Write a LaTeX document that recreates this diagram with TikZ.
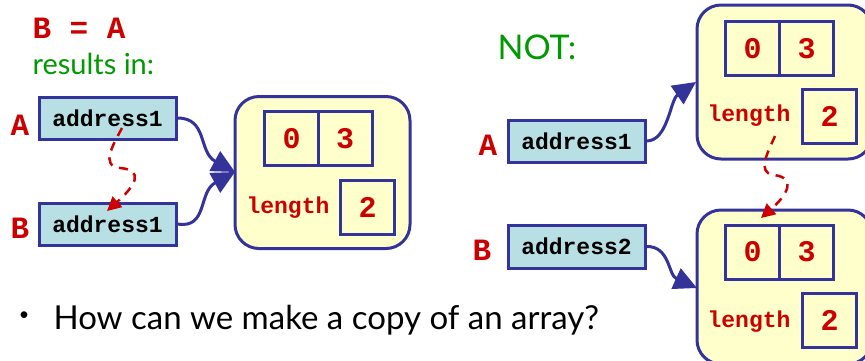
\documentclass[tikz,border=0pt]{standalone}
\usepackage{fontspec}
\setmainfont{Lato}
\newfontfamily\monob{Liberation Mono}[BoldFont={* Bold}]
\usetikzlibrary{arrows.meta}
\definecolor{bbl}{RGB}{51,51,153}
\definecolor{rd}{RGB}{204,0,0}
\definecolor{gr}{RGB}{0,153,0}
\definecolor{lb}{RGB}{184,224,228}
\definecolor{yl}{RGB}{255,255,204}
\begin{document}
\begin{tikzpicture}[x=1pt,y=-1pt,
  ptr/.style={draw=bbl,line width=3pt,fill=lb,minimum width=137pt,minimum height=42pt,inner sep=0pt,font=\monob\bfseries\fontsize{23}{24}\selectfont,text=black},
  arr/.style={draw=bbl,line width=3pt,fill=yl,rounded corners=24pt,minimum width=175pt,minimum height=152pt,inner sep=0pt},
  cell/.style={draw=bbl,line width=3pt,fill=yl,minimum width=54pt,minimum height=54pt,inner sep=0pt,font=\monob\bfseries\fontsize{30}{32}\selectfont,text=rd},
  lab/.style={font=\monob\bfseries\fontsize{31}{32}\selectfont,text=rd},
  lentxt/.style={font=\monob\bfseries\fontsize{23}{24}\selectfont,text=rd},
  link/.style={draw=bbl,line width=3pt,-{Triangle[length=23pt 0,width=22pt 0,fill=bbl]}},
  ref/.style={draw=rd,line width=2.5pt,dash pattern=on 9pt off 7pt,-{Triangle[length=14pt 0,width=14pt 0,fill=rd]}},
  green/.style={text=gr}
]
\useasboundingbox (0,0) rectangle (865,360);
\clip (0,0) rectangle (865,360);
\fill[white] (0,0) rectangle (865,360);

% left side
\node[lab,anchor=west] (eq) at (29,28) {B = A};
\node[green,anchor=west,font=\fontsize{29}{30}\selectfont] (res) at (29,64) {results in:};
\node[ptr] (pa) at (107.5,118) {address1};
\node[ptr] (pb) at (107.5,224) {address1};
\node[lab] (la) at (20,125) {A};
\node[lab] (lb) at (20,228) {B};
\node[arr] (big) at (322.5,172.5) {};
\node[cell] (c0) at (291.5,138.5) {0};
\node[cell] (c3) at (345,138.5) {3};
\node[cell] (c2) at (367.5,207) {2};
\node[lentxt] (len) at (288,208) {length};
\coordinate (tipL) at (235,172);
\draw[link] (pa.east) .. controls (208,118) and (198,152) .. (tipL);
\draw[link] (pb.east) .. controls (208,229) and (198,192) .. (tipL);
\coordinate (rs) at (122,128);
\coordinate (re) at (107,211);
\draw[ref] (rs) .. controls (113,145) and (100,166) .. (120,168) .. controls (145,170) and (135,186) .. (re);

% right side
\node[green,anchor=west,font=\fontsize{34}{36}\selectfont] (not) at (494,47) {NOT:};
\node[ptr] (pa2) at (576.5,141) {address1};
\node[ptr,minimum height=43pt] (pb2) at (576.5,246.5) {address2};
\node[lab] (la2) at (488,145) {A};
\node[lab] (lb2) at (482,250) {B};
\node[arr,minimum height=154pt] (top) at (784.5,82) {};
\node[cell] (t0) at (752.5,48.5) {0};
\node[cell] (t3) at (806.5,48.5) {3};
\node[cell] (t2) at (829.5,116.5) {2};
\node[lentxt] (tlen) at (749,116) {length};
\node[arr,minimum height=154pt] (bot) at (784.5,287) {};
\node[cell] (b0) at (752.5,252) {0};
\node[cell] (b3) at (806.5,252) {3};
\node[cell] (b2) at (829.5,320) {2};
\node[lentxt] (blen) at (749,322) {length};
\coordinate (tipT) at (696,82);
\coordinate (tipB) at (697,288);
\draw[link] (pa2.east) .. controls (668,141) and (670,100) .. (tipT);
\draw[link] (pb2.east) .. controls (670,246) and (668,275) .. (tipB);
\coordinate (rs2) at (775,136);
\coordinate (re2) at (761,218);
\draw[ref] (rs2) .. controls (768,152) and (756,173) .. (774,175) .. controls (798,178) and (786,196) .. (re2);

% bullet
\node[font=\fontsize{18}{20}\selectfont] (dot) at (24,316) {•};
\node[anchor=west,font=\fontsize{33}{34}\selectfont] (q) at (50,320) {How can we make a copy of an array?};
\end{tikzpicture}
\end{document}
